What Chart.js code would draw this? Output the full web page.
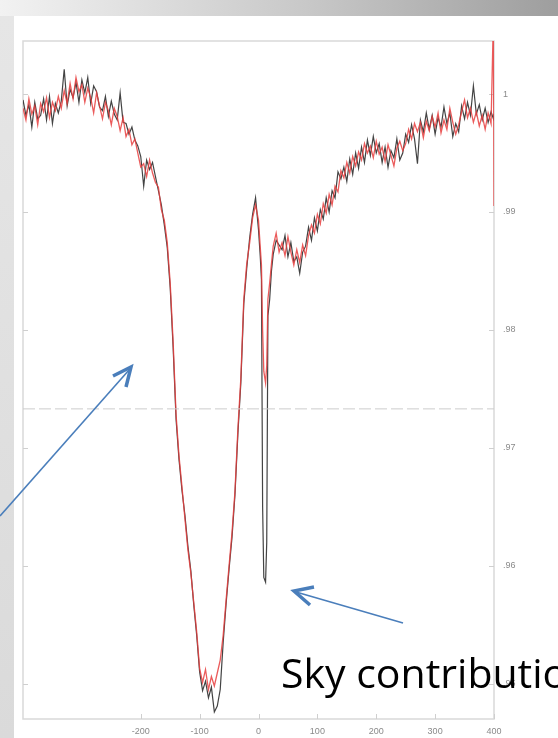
<!DOCTYPE html>
<html lang="en">
<head>
    <meta charset="UTF-8">
    <title>Line profile</title>
    <style>
        html, body { margin: 0; padding: 0; }
        body {
            width: 558px; height: 738px; overflow: hidden;
            position: relative; background: #ffffff;
        }
        .band_top {
            position: absolute; left: 0; top: 0; width: 558px; height: 16px;
            background: linear-gradient(to right, #f2f2f2, #c8c8c8 55%, #9e9e9e);
        }
        .band_left {
            position: absolute; left: 0; top: 16px; width: 14px; height: 722px;
            background: linear-gradient(to bottom, #e6e6e6, #dadada);
        }
        #profile { position: absolute; left: 0; top: 0; }
        .overlay { position: absolute; left: 0; top: 0; }
        .note {
            position: absolute; left: 281px; top: 652px;
            font-family: "Open Sans", sans-serif; font-size: 41px;
            color: #000; white-space: nowrap; line-height: 1;
        }
    </style>
</head>
<body>
    <div class="band_top"></div>
    <div class="band_left"></div>
    <canvas id="profile" width="558" height="738"></canvas>
    <svg class="overlay" width="558" height="738">
        <g stroke="#4a7ebb" fill="none">
            <line x1="0" y1="516" x2="129" y2="370" stroke-width="1.6"/>
            <polyline points="113,376 131,367 126,387" stroke-width="3.5"/>
            <line x1="403" y1="623" x2="296" y2="592" stroke-width="1.6"/>
            <polyline points="314,587 294,591 310,605" stroke-width="3.5"/>
        </g>
    </svg>
    <div class="note">Sky contribution</div>

    <script src="https://cdn.jsdelivr.net/npm/chart.js"></script>
    <script>
    // velocity grid (km/s), finer across the narrow sky line
    const velocity = [
        -400, -395, -390, -385, -380, -375, -370, -365, -360, -355,
        -350, -345, -340, -335, -330, -325, -320, -315, -310, -305,
        -300, -295, -290, -285, -280, -275, -270, -265, -260, -255,
        -250, -245, -240, -235, -230, -225, -220, -215, -210, -205,
        -200, -195, -190, -185, -180, -175, -170, -165, -160, -155,
        -150, -145, -140, -135, -130, -125, -120, -115, -110, -105,
        -100, -95, -90, -85, -80, -75, -70, -65, -60, -55,
        -50, -45, -40, -35, -30, -25, -20, -15, -10, -5,
        0, 3, 5, 7, 9, 12, 14, 16, 19, 22,
        25, 30, 35, 40, 45,
        50, 55, 60, 65, 70, 75, 80, 85, 90, 95,
        100, 105, 110, 115, 120, 125, 130, 135, 140, 145,
        150, 155, 160, 165, 170, 175, 180, 185, 190, 195,
        200, 205, 210, 215, 220, 225, 230, 235, 240, 245,
        250, 255, 260, 265, 270, 275, 280, 285, 290, 295,
        300, 305, 310, 315, 320, 325, 330, 335, 340, 345,
        350, 355, 360, 365, 370, 375, 380, 385, 390, 395,
        399, 400
    ];

    // normalised flux, black spectrum
    const fluxBlack = [
        0.9995, 0.9982, 0.9991, 0.9972, 0.9993, 0.9979, 0.9982, 0.9996, 0.9978, 0.9998,
        0.9975, 0.9992, 0.9984, 0.9994, 1.0021, 0.9990, 1.0004, 0.9997, 1.0010, 0.9993,
        1.0012, 1.0001, 1.0014, 0.9992, 1.0007, 1.0002, 0.9989, 0.9986, 0.9998, 0.9981,
        0.9994, 0.9983, 0.9978, 1.0001, 0.9976, 0.9975, 0.9966, 0.9972, 0.9961, 0.9956,
        0.9947, 0.9922, 0.9944, 0.9936, 0.9942, 0.9930, 0.9918, 0.9906, 0.9889, 0.9870,
        0.9836, 0.9785, 0.9724, 0.9690, 0.9664, 0.9643, 0.9617, 0.9596, 0.9567, 0.9541,
        0.9510, 0.9494, 0.9502, 0.9488, 0.9497, 0.9476, 0.9481, 0.9495, 0.9535, 0.9568,
        0.9597, 0.9624, 0.9660, 0.9712, 0.9755, 0.9822, 0.9852, 0.9878, 0.9898, 0.9912,
        0.9885, 0.9862, 0.9843, 0.9650, 0.9590, 0.9586, 0.9620, 0.9812, 0.9826, 0.9850,
        0.9864, 0.9876, 0.9872, 0.9868, 0.9880,
        0.9862, 0.9874, 0.9858, 0.9862, 0.9848, 0.9866, 0.9871, 0.9887, 0.9876, 0.9895,
        0.9884, 0.9902, 0.9894, 0.9912, 0.9900, 0.9918, 0.9912, 0.9934, 0.9928, 0.9938,
        0.9926, 0.9945, 0.9932, 0.9950, 0.9937, 0.9955, 0.9942, 0.9961, 0.9948, 0.9964,
        0.9950, 0.9958, 0.9942, 0.9955, 0.9938, 0.9952, 0.9946, 0.9962, 0.9944, 0.9950,
        0.9966, 0.9959, 0.9974, 0.9962, 0.9941, 0.9978, 0.9968, 0.9984, 0.9970, 0.9982,
        0.9966, 0.9980, 0.9972, 0.9989, 0.9975, 0.9984, 0.9964, 0.9975, 0.9968, 0.9990,
        0.9979, 0.9993, 0.9982, 1.0007, 0.9983, 0.9991, 0.9978, 0.9988, 0.9976, 0.9985,
        0.9979, 0.9983
    ];

    // normalised flux, red spectrum
    const fluxRed = [
        0.9988, 0.9978, 0.9996, 0.9983, 0.9990, 0.9974, 0.9992, 0.9985, 0.9997, 0.9980,
        0.9993, 0.9986, 0.9998, 0.9988, 1.0003, 0.9992, 1.0009, 0.9996, 1.0014, 1.0002,
        1.0008, 0.9993, 1.0005, 0.9997, 0.9984, 1.0001, 0.9990, 0.9979, 0.9993, 0.9986,
        0.9974, 0.9988, 0.9981, 0.9969, 0.9980, 0.9964, 0.9970, 0.9957, 0.9962, 0.9950,
        0.9938, 0.9941, 0.9930, 0.9944, 0.9933, 0.9925, 0.9921, 0.9902, 0.9893, 0.9874,
        0.9840, 0.9790, 0.9728, 0.9693, 0.9667, 0.9640, 0.9614, 0.9594, 0.9569, 0.9544,
        0.9513, 0.9501, 0.9512, 0.9495, 0.9506, 0.9498, 0.9509, 0.9520, 0.9541, 0.9571,
        0.9600, 0.9628, 0.9663, 0.9716, 0.9759, 0.9826, 0.9856, 0.9874, 0.9895, 0.9906,
        0.9893, 0.9870, 0.9855, 0.9800, 0.9765, 0.9755, 0.9770, 0.9826, 0.9840, 0.9856,
        0.9871, 0.9882, 0.9866, 0.9874, 0.9863,
        0.9879, 0.9866, 0.9855, 0.9868, 0.9857, 0.9872, 0.9863, 0.9880, 0.9889, 0.9882,
        0.9898, 0.9890, 0.9907, 0.9899, 0.9915, 0.9906, 0.9922, 0.9917, 0.9935, 0.9929,
        0.9942, 0.9933, 0.9947, 0.9939, 0.9951, 0.9944, 0.9958, 0.9950, 0.9956, 0.9946,
        0.9960, 0.9949, 0.9955, 0.9943, 0.9957, 0.9948, 0.9939, 0.9954, 0.9960, 0.9952,
        0.9958, 0.9970, 0.9962, 0.9975, 0.9968, 0.9976, 0.9963, 0.9977, 0.9969, 0.9981,
        0.9972, 0.9984, 0.9967, 0.9978, 0.9970, 0.9988, 0.9976, 0.9966, 0.9974, 0.9985,
        0.9995, 0.9980, 0.9988, 0.9976, 0.9985, 0.9973, 0.9982, 0.9970, 0.9984, 0.9975,
        1.0065, 0.9905
    ];

    const refLevel = 0.9733;
    const refSpan = [-400, 400];

    const xTickValues = [-200, -100, 0, 100, 200, 300, 400];
    const xTickLabels = ['-200', '-100', '0', '100', '200', '300', '400'];
    const yTickValues = [0.95, 0.96, 0.97, 0.98, 0.99, 1.0];
    const yTickLabels = ['.95', '.96', '.97', '.98', '.99', '1'];

    const toPoints = (xs, ys) => xs.map((v, i) => ({ x: v, y: ys[i] }));

    // light box around the plot with short inward ticks
    const framePlugin = {
        id: 'frame',
        beforeDatasetsDraw(chart) {
            const { ctx, chartArea: a, scales } = chart;
            ctx.save();
            ctx.strokeStyle = '#d9d9d9';
            ctx.lineWidth = 1.5;
            ctx.strokeRect(a.left, a.top, a.right - a.left, a.bottom - a.top);
            ctx.lineWidth = 1;
            ctx.strokeStyle = '#cfcfcf';
            ctx.beginPath();
            yTickValues.forEach(v => {
                const py = Math.round(scales.y.getPixelForValue(v)) + 0.5;
                ctx.moveTo(a.left, py); ctx.lineTo(a.left + 5, py);
                ctx.moveTo(a.right, py); ctx.lineTo(a.right - 5, py);
            });
            xTickValues.forEach(v => {
                const px = Math.round(scales.x.getPixelForValue(v)) + 0.5;
                ctx.moveTo(px, a.bottom); ctx.lineTo(px, a.bottom - 5);
            });
            ctx.stroke();
            ctx.restore();
        }
    };

    const tickFont = { family: 'Liberation Sans', size: 9 };

    new Chart(document.getElementById('profile'), {
        type: 'line',
        data: {
            datasets: [
                {
                    label: 'reference level',
                    data: toPoints(refSpan, [refLevel, refLevel]),
                    borderColor: '#cccccc',
                    borderWidth: 1,
                    borderDash: [12, 4],
                    pointRadius: 0
                },
                {
                    label: 'red',
                    data: toPoints(velocity, fluxRed),
                    borderColor: 'rgba(232, 62, 62, 0.85)',
                    borderWidth: 1.3,
                    pointRadius: 0,
                    tension: 0
                },
                {
                    label: 'black',
                    data: toPoints(velocity, fluxBlack),
                    borderColor: 'rgba(20, 20, 20, 0.8)',
                    borderWidth: 1.2,
                    pointRadius: 0,
                    tension: 0
                }
            ]
        },
        options: {
            responsive: false,
            animation: false,
            devicePixelRatio: 1,
            layout: { padding: { left: 23, top: 41, right: 0, bottom: 0 } },
            plugins: {
                legend: { display: false },
                tooltip: { enabled: false }
            },
            scales: {
                x: {
                    type: 'linear',
                    position: 'bottom',
                    min: -400,
                    max: 400,
                    grid: { display: false, drawTicks: false },
                    border: { display: false },
                    afterBuildTicks: s => { s.ticks = xTickValues.map(v => ({ value: v })); },
                    afterFit: s => { s.height = 19; },
                    ticks: {
                        autoSkip: false,
                        maxRotation: 0,
                        padding: 7,
                        color: '#8a8a8a',
                        font: tickFont,
                        callback: v => xTickLabels[xTickValues.indexOf(v)]
                    }
                },
                y: {
                    type: 'linear',
                    position: 'right',
                    min: 0.947,
                    max: 1.0045,
                    grid: { display: false, drawTicks: false },
                    border: { display: false },
                    afterBuildTicks: s => { s.ticks = yTickValues.map(v => ({ value: v })); },
                    afterFit: s => { s.width = 64; },
                    ticks: {
                        autoSkip: false,
                        padding: 9,
                        color: '#8a8a8a',
                        font: tickFont,
                        callback: v => yTickLabels[yTickValues.findIndex(t => Math.abs(t - v) < 1e-6)]
                    }
                }
            }
        },
        plugins: [framePlugin]
    });
    </script>
</body>
</html>
